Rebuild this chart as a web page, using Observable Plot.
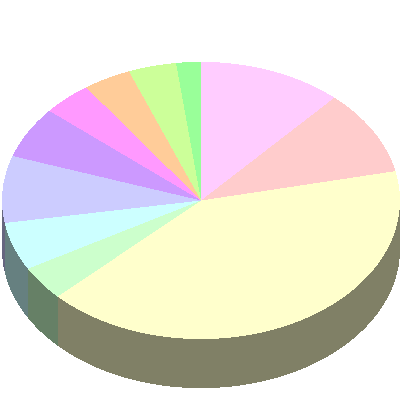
<!DOCTYPE html>
<html>
<head>
<meta charset="utf-8">
<script src="https://cdn.jsdelivr.net/npm/d3@7"></script>
<script src="https://cdn.jsdelivr.net/npm/@observablehq/plot@0.6"></script>
<style>
html,body{margin:0;padding:0;background:#fff}
svg{display:block}
</style>
</head>
<body>
<div id="chart"></div>
<script>
const sliceNames = ["A","B","C","D","E","F","G","H","I","J","K"];
const sliceValues = [11.7, 9.9, 41.2, 4.0, 5.6, 7.8, 6.0, 4.0, 3.9, 3.9, 2.0];
const topColors = ["#FFCCFF","#FFCCCC","#FFFFCC","#CCFFCC","#CCFFFF","#CCCCFF","#CC99FF","#FF99FF","#FFCC99","#CCFF99","#99FF99"];
const wallColors = ["#806680","#806666","#808066","#668066","#668080","#666680","#664D80","#804D80","#806640","#66804D","#4D804D"];
const depth = 0.354;

const arcs = d3.pie().sort(null)(sliceValues);
const pt = a => [Math.sin(a), Math.cos(a)];

const topRows = [], wallRows = [];
arcs.forEach((arc, i) => {
  const n = Math.max(2, Math.ceil((arc.endAngle - arc.startAngle) * 90));
  topRows.push({slice: sliceNames[i], color: topColors[i], x: 0, y: 0});
  for (let k = 0; k <= n; k++) {
    const [x, y] = pt(arc.startAngle + (arc.endAngle - arc.startAngle) * k / n);
    topRows.push({slice: sliceNames[i], color: topColors[i], x, y});
  }
  const a0 = Math.max(arc.startAngle, Math.PI / 2);
  const a1 = Math.min(arc.endAngle, Math.PI * 1.5);
  if (a1 > a0) {
    const m = Math.max(2, Math.ceil((a1 - a0) * 90));
    const upper = [];
    for (let k = 0; k <= m; k++) upper.push(pt(a0 + (a1 - a0) * k / m));
    for (const [x, y] of upper) wallRows.push({slice: sliceNames[i], color: wallColors[i], x, y});
    for (const [x, y] of upper.reverse()) wallRows.push({slice: sliceNames[i], color: wallColors[i], x, y: y - depth});
  }
});

const chart = Plot.plot({
  width: 400,
  height: 400,
  margin: 0,
  style: {background: "#fff"},
  x: {axis: null, domain: [-1, 1], range: [1.5, 399.5]},
  y: {axis: null, domain: [-1, 1], range: [338.6, 61.4]},
  color: {type: "identity"},
  marks: [
    Plot.line(wallRows, {x: "x", y: "y", z: "slice", fill: "color", stroke: "none", curve: "linear", shapeRendering: "crispEdges"}),
    Plot.line(topRows, {x: "x", y: "y", z: "slice", fill: "color", stroke: "none", curve: "linear", shapeRendering: "crispEdges"})
  ]
});
document.getElementById("chart").appendChild(chart);
</script>
</body>
</html>
